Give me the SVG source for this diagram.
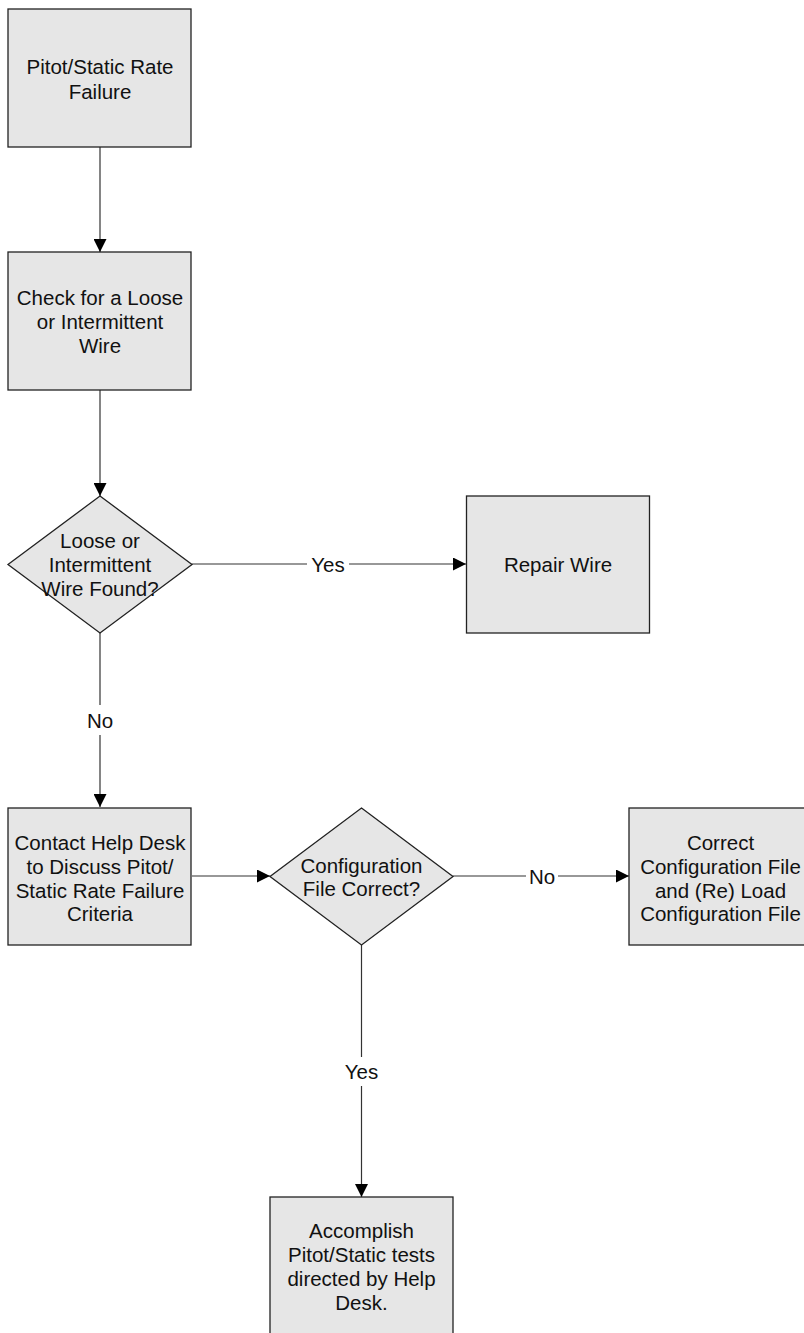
<svg xmlns="http://www.w3.org/2000/svg" width="804" height="1333" viewBox="0 0 804 1333">
  <defs>
    <marker id="arrow" markerWidth="13" markerHeight="13" refX="13" refY="6.5" orient="auto" markerUnits="userSpaceOnUse">
      <path d="M0,0 L13,6.5 L0,13 Z" fill="#000"/>
    </marker>
    <style>
      .box { fill: #e6e6e6; stroke: #222; stroke-width: 1.3; }
      .lbl { font-family: "Liberation Sans", Arial, sans-serif; font-size: 20.5px; fill: #111; text-anchor: middle; dominant-baseline: central; }
      .edge { fill: none; stroke: #333; stroke-width: 1.2; }
    </style>
  </defs>
  <rect width="804" height="1333" fill="#fff"/>

  <g id="connectors">
    <line class="edge" x1="100" y1="147" x2="100" y2="252" marker-end="url(#arrow)"/>
    <line class="edge" x1="100" y1="390" x2="100" y2="496" marker-end="url(#arrow)"/>
    <!-- Yes: wire found -->
    <line class="edge" x1="192" y1="564" x2="307" y2="564"/>
    <line class="edge" x1="349" y1="564" x2="466" y2="564" marker-end="url(#arrow)"/>
    <text class="lbl" x="328" y="564">Yes</text>
    <!-- No: wire not found -->
    <line class="edge" x1="100" y1="633" x2="100" y2="705"/>
    <line class="edge" x1="100" y1="735" x2="100" y2="807" marker-end="url(#arrow)"/>
    <text class="lbl" x="100" y="720">No</text>
    <!-- help desk to configuration check -->
    <line class="edge" x1="192" y1="876" x2="270" y2="876" marker-end="url(#arrow)"/>
    <!-- No: configuration incorrect -->
    <line class="edge" x1="453" y1="876" x2="526" y2="876"/>
    <line class="edge" x1="558" y1="876" x2="629" y2="876" marker-end="url(#arrow)"/>
    <text class="lbl" x="542" y="876">No</text>
    <!-- Yes: configuration correct -->
    <line class="edge" x1="361.5" y1="945" x2="361.5" y2="1057"/>
    <line class="edge" x1="361.5" y1="1086" x2="361.5" y2="1197" marker-end="url(#arrow)"/>
    <text class="lbl" x="361.5" y="1071">Yes</text>
  </g>

  <g id="n-failure">
    <rect class="box" x="8" y="9" width="183" height="138"/>
    <text class="lbl" x="100" y="66">Pitot/Static Rate</text>
    <text class="lbl" x="100" y="91">Failure</text>
  </g>

  <g id="n-check-wire">
    <rect class="box" x="8" y="252" width="183" height="138"/>
    <text class="lbl" x="100" y="297">Check for a Loose</text>
    <text class="lbl" x="100" y="321">or Intermittent</text>
    <text class="lbl" x="100" y="345">Wire</text>
  </g>

  <g id="n-wire-found">
    <polygon class="box" points="100,496 192,564.5 100,633 8,564.5"/>
    <text class="lbl" x="100" y="540">Loose or</text>
    <text class="lbl" x="100" y="564">Intermittent</text>
    <text class="lbl" x="100" y="588">Wire Found?</text>
  </g>

  <g id="n-repair">
    <rect class="box" x="466.5" y="496" width="183" height="137"/>
    <text class="lbl" x="558" y="564">Repair Wire</text>
  </g>

  <g id="n-help-desk">
    <rect class="box" x="8" y="808" width="183" height="137"/>
    <text class="lbl" x="100" y="842">Contact Help Desk</text>
    <text class="lbl" x="100" y="866">to Discuss Pitot/</text>
    <text class="lbl" x="100" y="890">Static Rate Failure</text>
    <text class="lbl" x="100" y="913">Criteria</text>
  </g>

  <g id="n-config-ok">
    <polygon class="box" points="361.5,808 453,876.5 361.5,945 270,876.5"/>
    <text class="lbl" x="361.5" y="865">Configuration</text>
    <text class="lbl" x="361.5" y="888">File Correct?</text>
  </g>

  <g id="n-fix-config">
    <rect class="box" x="629" y="808" width="183" height="137"/>
    <text class="lbl" x="720.5" y="842">Correct</text>
    <text class="lbl" x="720.5" y="866">Configuration File</text>
    <text class="lbl" x="720.5" y="890">and (Re) Load</text>
    <text class="lbl" x="720.5" y="913">Configuration File</text>
  </g>

  <g id="n-tests">
    <rect class="box" x="270" y="1197" width="183" height="138"/>
    <text class="lbl" x="361.5" y="1230">Accomplish</text>
    <text class="lbl" x="361.5" y="1254">Pitot/Static tests</text>
    <text class="lbl" x="361.5" y="1278">directed by Help</text>
    <text class="lbl" x="361.5" y="1302">Desk.</text>
  </g>
</svg>
